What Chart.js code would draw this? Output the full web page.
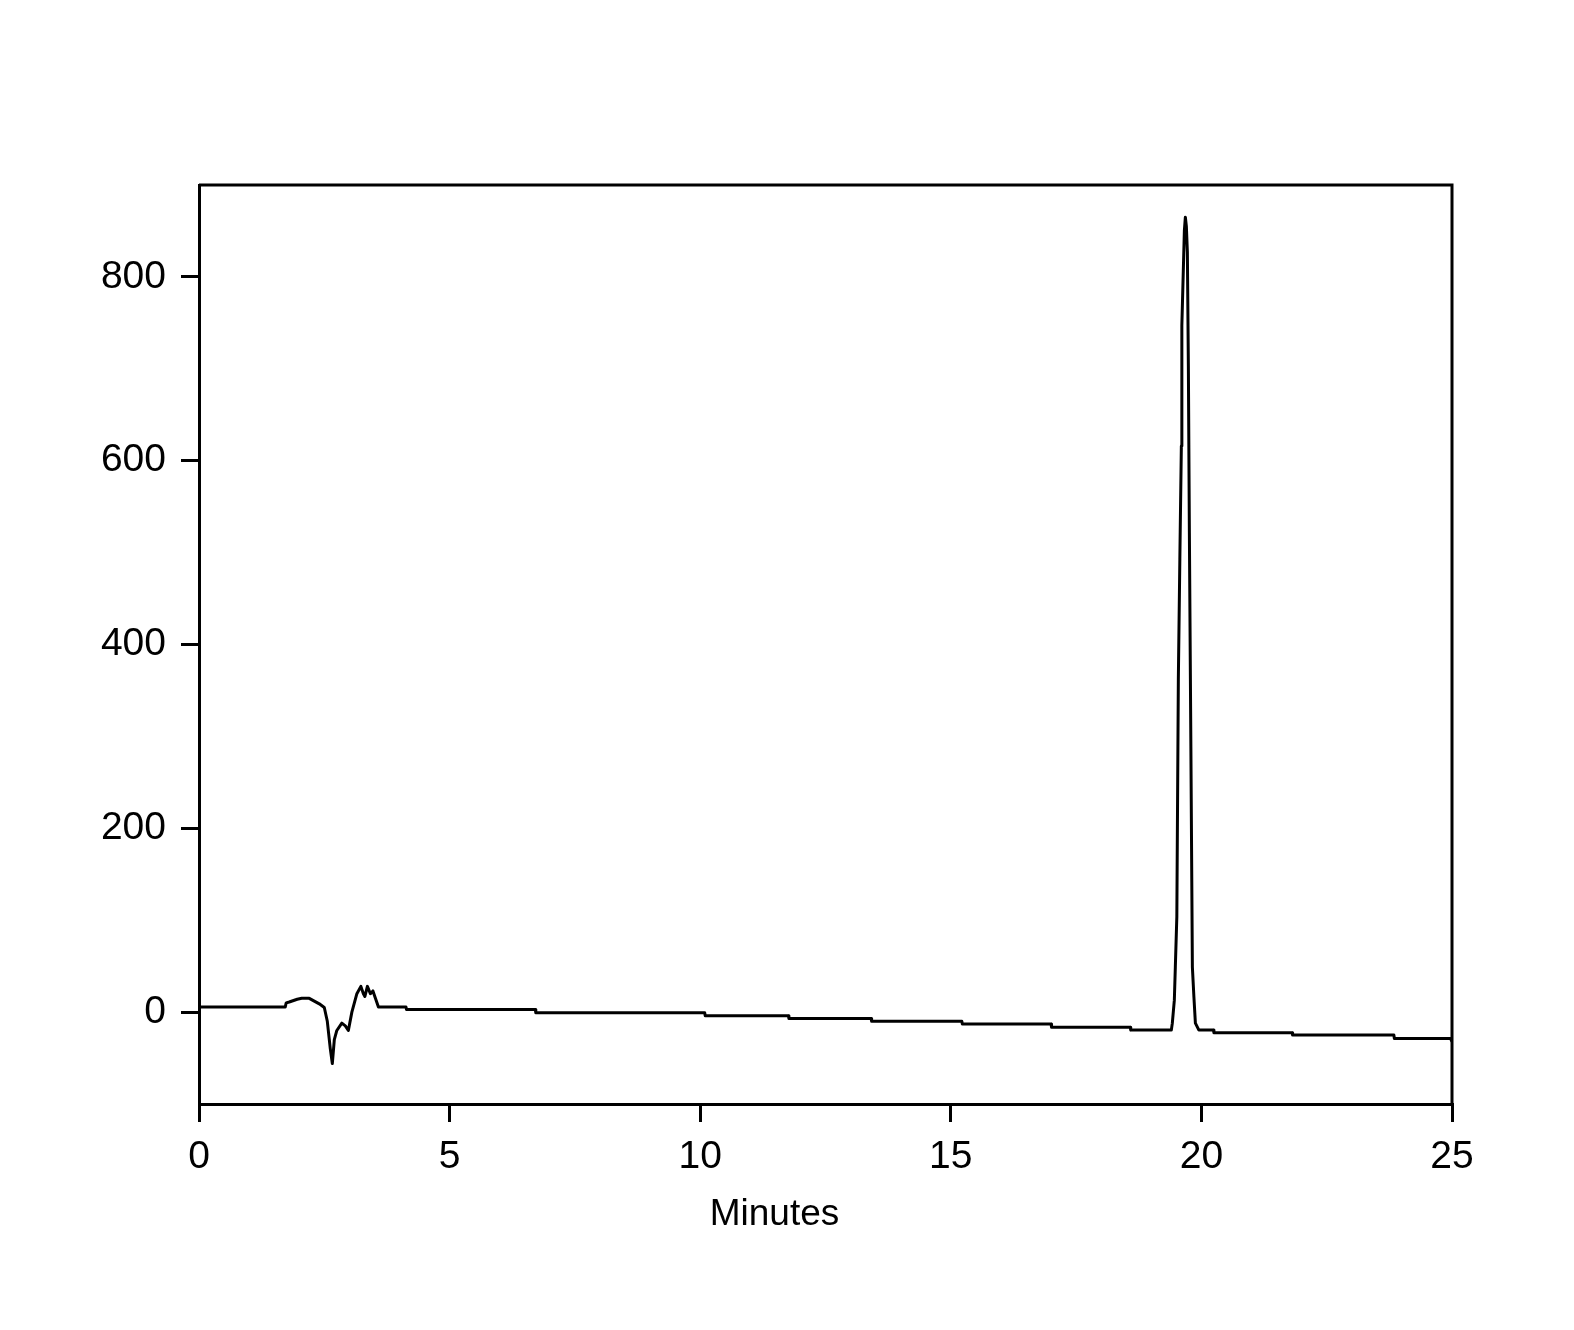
<!DOCTYPE html>
<html>
<head>
<meta charset="utf-8">
<script src="https://cdn.jsdelivr.net/npm/chart.js@4/dist/chart.umd.min.js"></script>
<style>
  body { margin: 0; background: #fff; }
  #chrom { display: block; }
</style>
</head>
<body>
<canvas id="chrom" width="1574" height="1330"></canvas>
<script>
// retention time (min) and detector signal
const times = [
  0, 1.72, 1.74, 1.80, 1.96, 2.05, 2.20, 2.30, 2.40, 2.50, 2.56, 2.62, 2.66, 2.70, 2.75,
  2.85, 2.92, 2.98, 3.05, 3.10, 3.15, 3.23, 3.28, 3.31, 3.36, 3.42, 3.47, 3.52, 3.58,
  4.13, 4.14, 6.71, 6.72, 10.09, 10.10, 11.76, 11.77, 13.41, 13.42, 15.22, 15.23,
  17.00, 17.01, 18.58, 18.59, 19.40, 19.42, 19.46, 19.48, 19.51, 19.54, 19.57, 19.60,
  19.61, 19.66, 19.68, 19.70, 19.72, 19.74, 19.76, 19.79, 19.82, 19.85, 19.88, 19.95,
  20.24, 20.25, 21.81, 21.82, 23.84, 23.85, 24.97, 25.0
];
const signal = [
  5.5, 5.5, 10, 11, 14, 15, 15, 12, 9, 5, -10, -40, -56, -30, -20,
  -12, -15, -20, 0, 10, 20, 28, 20, 17, 28, 20, 23, 15, 5.5,
  5.5, 2.9, 2.9, -0.7, -0.7, -4, -4, -7, -7, -10, -10, -13,
  -13, -16.4, -16.4, -19.6, -19.6, -12, 13, 49, 104, 362, 493, 616,
  747, 850, 865, 855, 827, 703, 522, 289, 49, 17, -12, -19.6,
  -19.6, -22.5, -22.5, -25, -25, -28.7, -28.7, -32
];
const xTicks = [0, 5, 10, 15, 20, 25];
const yTicks = [0, 200, 400, 600, 800];
const xTitle = "Minutes";

const points = times.map((t, i) => ({ x: t, y: signal[i] }));

// top and right edges of the plot frame, plus the x-axis title
// (the title sits left of the plot centre in the original)
const frameBox = {
  id: "frameBox",
  afterDraw(chart) {
    const { ctx, chartArea } = chart;
    ctx.save();
    ctx.strokeStyle = "#000";
    ctx.lineWidth = 3;
    ctx.beginPath();
    ctx.moveTo(chartArea.left, chartArea.top);
    ctx.lineTo(chartArea.right, chartArea.top);
    ctx.lineTo(chartArea.right, chartArea.bottom);
    ctx.stroke();

    ctx.fillStyle = "#000";
    ctx.font = "37px 'Liberation Sans'";
    ctx.textAlign = "center";
    ctx.textBaseline = "alphabetic";
    ctx.fillText(xTitle, (chartArea.left + chartArea.right) / 2 - 51, chartArea.bottom + 121);
    ctx.restore();
  }
};

const ctx = document.getElementById("chrom").getContext("2d");
new Chart(ctx, {
  type: "line",
  data: {
    datasets: [{
      data: points,
      borderColor: "#000",
      borderWidth: 3,
      borderJoinStyle: "round",
      borderCapStyle: "butt",
      pointRadius: 0,
      tension: 0,
      fill: false
    }]
  },
  options: {
    responsive: false,
    animation: false,
    events: [],
    layout: { padding: { top: 185, right: 122, left: 0, bottom: 0 } },
    plugins: { legend: { display: false }, tooltip: { enabled: false } },
    scales: {
      x: {
        type: "linear",
        min: 0,
        max: 25,
        afterBuildTicks: (scale) => { scale.ticks = xTicks.map(v => ({ value: v })); },
        afterFit: (scale) => { scale.height = 226; },
        border: { display: true, color: "#000", width: 3 },
        grid: { drawOnChartArea: false, drawTicks: true, tickLength: 18, lineWidth: 3, color: "#000" },
        ticks: { color: "#000", padding: 12, maxRotation: 0, font: { family: "Liberation Sans", size: 39 } }
      },
      y: {
        min: -100,
        max: 900,
        afterBuildTicks: (scale) => { scale.ticks = yTicks.map(v => ({ value: v })); },
        afterFit: (scale) => { scale.width = 199; },
        border: { display: true, color: "#000", width: 3 },
        grid: { drawOnChartArea: false, drawTicks: true, tickLength: 18, lineWidth: 3, color: "#000" },
        ticks: { color: "#000", padding: 15, font: { family: "Liberation Sans", size: 39 } }
      }
    }
  },
  plugins: [frameBox]
});
</script>
</body>
</html>
